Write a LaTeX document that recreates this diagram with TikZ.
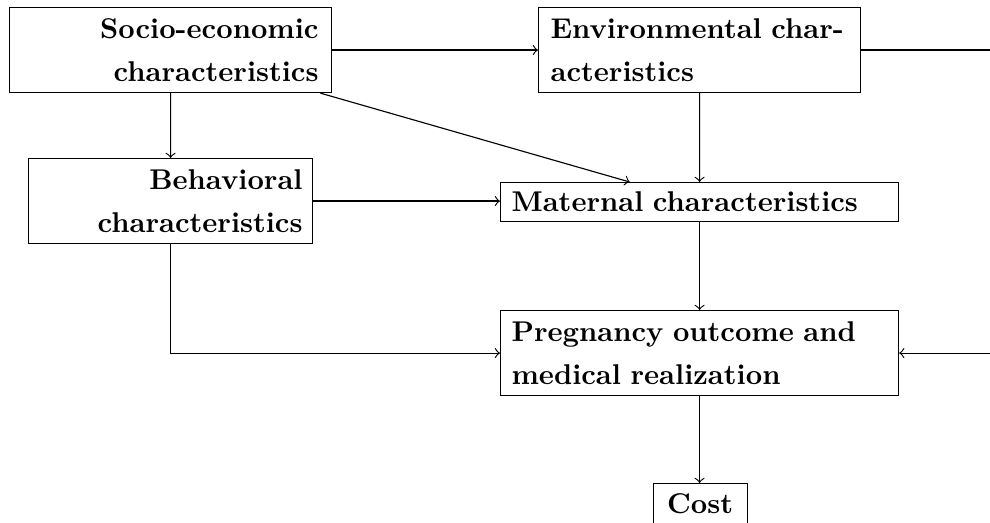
\documentclass[tikz,border=0pt]{standalone}
\begin{document}
\begin{tikzpicture}[x=0.35pt,y=-0.35pt,
  box/.style={draw, anchor=north west, font={\bfseries\fontsize{10}{15}\selectfont}, inner ysep=3.33pt},
  >=to]
\useasboundingbox (0,0) rectangle (990,522);
\node[box, inner xsep=4.55pt, text width=103.6pt, align=right, minimum height=29.75pt] (socio) at (9,7) {Socio-economic\\characteristics};
\node[box, inner xsep=4.2pt, text width=104.3pt, align=left, minimum height=29.75pt] (env) at (538,7) {Environmental char-\\acteristics};
\node[box, inner xsep=3.5pt, text width=92.4pt, align=right, minimum height=29.75pt] (behav) at (28,158) {Behavioral\\characteristics};
\node[box, inner xsep=3.85pt, text width=131.6pt, align=left, minimum height=13.65pt] (mat) at (500,182) {Maternal characteristics};
\node[box, inner xsep=3.85pt, text width=131.6pt, align=left, minimum height=29.75pt] (preg) at (500,310) {Pregnancy outcome and\\medical realization};
\node[box, inner xsep=3.33pt, text width=26.3pt, align=center, minimum height=14.35pt] (cost) at (652.5,483) {Cost};
\coordinate (rt) at (1005,0);
\draw[->] (socio) -- (env);
\draw[->] (socio) -- (behav);
\draw[->] (socio) -- (mat);
\draw[->] (env) -- (mat);
\draw[->] (behav) -- (behav -| mat.west);
\draw[->] (behav) |- (preg);
\draw[->] (mat) -- (preg);
\draw[->] (preg.south) -- (preg.south |- cost.north);
\draw[->] (env) -- (env -| rt) |- (preg);
\end{tikzpicture}
\end{document}
